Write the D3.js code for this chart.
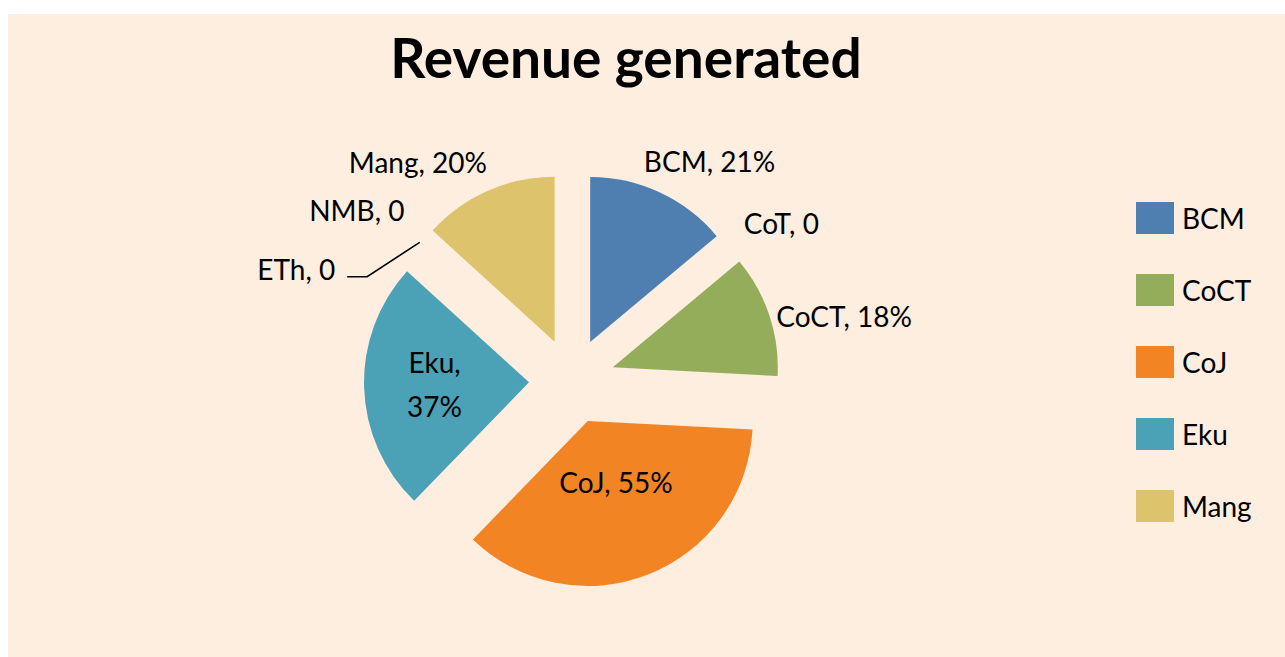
<!DOCTYPE html>
<html>
<head>
<meta charset="utf-8">
<script src="https://cdn.jsdelivr.net/npm/d3@7"></script>
<style>
  html, body { margin: 0; padding: 0; background: #fff; }
  svg { display: block; }
</style>
</head>
<body>
<div class="app"></div>
<script>
// Data
const names = ['BCM', 'CoT', 'CoCT', 'CoJ', 'Eku', 'ETh', 'NMB', 'Mang'];
const shares = [21, 0, 18, 55, 37, 0, 0, 20];
const shareLabels = ['21%', '0', '18%', '55%', '37%', '0', '0', '20%'];
const legendNames = ['BCM', 'CoCT', 'CoJ', 'Eku', 'Mang'];
const title = 'Revenue generated';

// Setup
const width = 1285;
const height = 657;
const FONT = 'Lato, "Open Sans", sans-serif';

const svg = d3.select('.app')
  .append('svg')
  .attr('width', width)
  .attr('height', height)
  .attr('viewBox', [0, 0, width, height]);

svg.append('rect')
  .attr('x', 8)
  .attr('y', 14)
  .attr('width', width - 8)
  .attr('height', height - 14)
  .attr('fill', '#fdeee0');

svg.append('text')
  .attr('x', 626)
  .attr('y', 78)
  .attr('text-anchor', 'middle')
  .attr('font-family', FONT)
  .attr('font-weight', 700)
  .attr('font-size', 55)
  .text(title);

const color = d3.scaleOrdinal()
  .domain(legendNames)
  .range(['#4f7eb1', '#94ad5a', '#f38424', '#4ba1b6', '#ddc36b']);

// Pie
const CX = 572, CY = 381;
const RADIUS = 165;
const EXPLODE = 43;

const rows = names.map((name, i) => ({ name, share: shares[i], label: shareLabels[i] }));
const arcs = d3.pie().sort(null).value(d => d.share)(rows);
const arc = d3.arc().innerRadius(0).outerRadius(RADIUS);
const midAngle = a => (a.startAngle + a.endAngle) / 2;
const polar = (angle, r) => [Math.sin(angle) * r, -Math.cos(angle) * r];

const gPie = svg.append('g').attr('transform', `translate(${CX},${CY})`);

gPie.selectAll('path')
  .data(arcs.filter(a => a.data.share > 0))
  .join('path')
  .attr('transform', a => `translate(${polar(midAngle(a), EXPLODE)})`)
  .attr('fill', a => color(a.data.name))
  .attr('d', arc);

// Labels: inside for the big slices, outside for the rest
const insideLabels = ['CoJ', 'Eku'];
const labelShift = {
  BCM: [9, 8], CoT: [-2, 4], CoCT: [-18, 15], Mang: [-30, 11],
  NMB: [-4, -2], ETh: [-71, 57], CoJ: [-2, -15], Eku: [-12, 0]
};
const LABEL_R = RADIUS + EXPLODE + 30;
const FS = 28;

const gLabels = svg.append('g')
  .attr('transform', `translate(${CX},${CY})`)
  .attr('font-family', FONT)
  .attr('font-size', FS)
  .attr('fill', '#000');

arcs.forEach(a => {
  const name = a.data.name;
  const m = midAngle(a);
  const [sx, sy] = labelShift[name] || [0, 0];
  const t = gLabels.append('text').attr('text-anchor', 'middle');
  let cx, cy;
  if (insideLabels.includes(name)) {
    const [ox, oy] = polar(m, EXPLODE);
    const [px, py] = arc.centroid(a);
    cx = ox + px + sx;
    cy = oy + py + sy;
    if (name === 'Eku') {
      t.append('tspan').attr('x', cx).attr('y', cy - 22).attr('dy', '0.35em').text(name + ',');
      t.append('tspan').attr('x', cx).attr('y', cy + 22).attr('dy', '0.35em').text(a.data.label);
    } else {
      t.attr('x', cx).attr('y', cy).attr('dy', '0.35em').text(`${name}, ${a.data.label}`);
    }
    return;
  }
  t.text(`${name}, ${a.data.label}`);
  const w = t.node().getComputedTextLength();
  const [px, py] = polar(m, LABEL_R);
  cx = px + Math.sin(m) * w / 2 + sx;
  cy = py - Math.cos(m) * 12 + sy;
  t.attr('x', cx).attr('y', cy).attr('dy', '0.35em');

  if (name === 'ETh') {
    const [ex, ey] = polar(m, RADIUS + EXPLODE - 2);
    const x0 = cx + w / 2 + 12;
    const y0 = cy + 7;
    gLabels.append('path')
      .attr('fill', 'none')
      .attr('stroke', '#000')
      .attr('stroke-width', 1.6)
      .attr('d', d3.line()([[x0, y0], [x0 + 20, y0], [ex, ey]]));
  }
});

// Legend
const gLegend = svg.append('g')
  .attr('transform', 'translate(1136,202)')
  .attr('font-family', FONT)
  .attr('font-size', FS);

const item = gLegend.selectAll('g')
  .data(legendNames)
  .join('g')
  .attr('transform', (d, i) => `translate(0,${i * 72})`);

item.append('rect')
  .attr('width', 38)
  .attr('height', 32)
  .attr('fill', d => color(d));

item.append('text')
  .attr('x', 46)
  .attr('y', 17)
  .attr('dy', '0.35em')
  .text(d => d);
</script>
</body>
</html>
